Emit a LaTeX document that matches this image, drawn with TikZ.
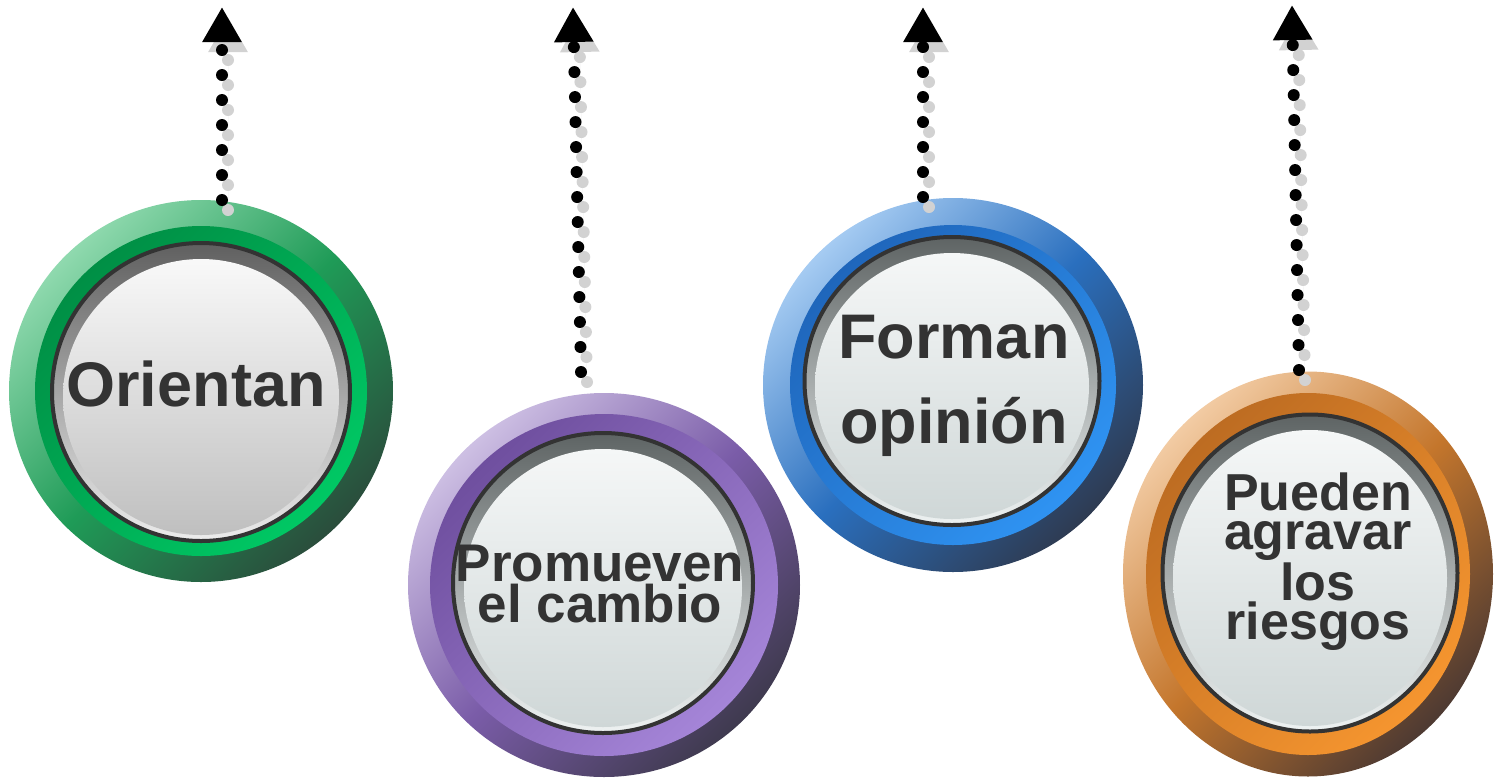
\documentclass[tikz,border=0pt]{standalone}
\usepackage{fontspec}
\setmainfont{Liberation Sans}
\usetikzlibrary{arrows.meta, shapes.geometric}

\definecolor{txtgray}{HTML}{333333}
\definecolor{dotgray}{HTML}{D2D2D2}
% rim and band colours
\definecolor{grnA}{HTML}{8FD9AE}\definecolor{grnB}{HTML}{1F9B57}\definecolor{grnC}{HTML}{2A4D3C}
\definecolor{grnD}{HTML}{008F45}\definecolor{grnE}{HTML}{00C864}
\definecolor{prpA}{HTML}{CDBFE3}\definecolor{prpB}{HTML}{7A5CA8}\definecolor{prpC}{HTML}{3F3A4F}
\definecolor{prpD}{HTML}{6F4F9F}\definecolor{prpE}{HTML}{A585D8}
\definecolor{bluA}{HTML}{A5CBF2}\definecolor{bluB}{HTML}{2A6FBE}\definecolor{bluC}{HTML}{2E3B52}
\definecolor{bluD}{HTML}{1F66BB}\definecolor{bluE}{HTML}{2F93F2}
\definecolor{orgA}{HTML}{F2CBA3}\definecolor{orgB}{HTML}{C4762C}\definecolor{orgC}{HTML}{4E3A32}
\definecolor{orgD}{HTML}{BD6C22}\definecolor{orgE}{HTML}{F5952F}
% button faces
\definecolor{faceA}{HTML}{F5F7F7}\definecolor{faceB}{HTML}{CFD7D7}
\definecolor{bezA}{HTML}{5E6464}\definecolor{bezB}{HTML}{EEF2F2}

\tikzset{
  rim/.style n args={3}{ellipse, inner sep=0pt, top color=#1, bottom color=#3, middle color=#2, shading angle=45},
  band/.style 2 args={ellipse, inner sep=0pt, top color=#1, bottom color=#2, shading angle=45},
  bezel/.style 2 args={ellipse, inner sep=0pt, draw=txtgray, line width=2pt, top color=#1, bottom color=#2},
  face/.style 2 args={ellipse, inner sep=0pt, top color=#1, bottom color=#2},
  btntext/.style={text=txtgray, align=center, inner sep=0pt},
  dotarrow/.style={line width=6pt, line cap=round, dash pattern=on 0pt off 12.5pt,
    -{Triangle[width=18.5pt, length=17.5pt]}},
  dotshadow/.style={dotarrow, draw=dotgray, fill=dotgray, transform canvas={xshift=3pt, yshift=-5pt}}
}

\begin{document}
\begin{tikzpicture}[x=0.5pt, y=-0.5pt]
  \useasboundingbox (0,0) rectangle (1496,778);

  % green
  \node[rim={grnA}{grnB}{grnC}, minimum width=192pt, minimum height=191pt] (grim) at (201,391) {};
  \node[band={grnD}{grnE}, minimum width=166pt, minimum height=165pt] (gband) at (201,391) {};
  \node[bezel={gray!75!black}{gray!15}, minimum size=149pt] (gbezel) at (201,392) {};
  \node[face={gray!5}{gray!50}, minimum size=138pt] (gface) at (201,397) {};
  \node[btntext, font=\bfseries\fontsize{31.5}{42.5}\selectfont] (orientan) at (196,384) {Orientan};

  % purple
  \node[rim={prpA}{prpB}{prpC}, minimum width=196pt, minimum height=192pt] (prim) at (604,585) {};
  \node[band={prpD}{prpE}, minimum width=174pt, minimum height=171pt] (pband) at (604,585) {};
  \node[bezel={bezA}{bezB}, minimum size=150pt] (pbezel) at (603,583) {};
  \node[face={faceA}{faceB}, minimum size=139pt] (pface) at (603,588) {};
  \node[btntext, font=\bfseries\fontsize{26.5}{18.5}\selectfont] (promueven) at (600,584) {Promueven\\el cambio};

  % blue
  \node[rim={bluA}{bluB}{bluC}, minimum width=190pt, minimum height=187pt] (brim) at (953,385) {};
  \node[band={bluD}{bluE}, minimum width=163pt, minimum height=160pt] (bband) at (953,385) {};
  \node[bezel={bezA}{bezB}, minimum width=147.5pt, minimum height=144pt] (bbezel) at (952,381) {};
  \node[face={faceA}{faceB}, minimum width=137pt, minimum height=133pt] (bface) at (952,386) {};
  \node[btntext, font=\bfseries\fontsize{31.5}{42.5}\selectfont] (forman) at (954,386) {Forman\\opinión};

  % orange
  \node[rim={orgA}{orgB}{orgC}, minimum width=185pt, minimum height=202.5pt] (orim) at (1308,574) {};
  \node[band={orgD}{orgE}, minimum width=162pt, minimum height=181pt] (oband) at (1308,574) {};
  \node[bezel={bezA}{bezB}, minimum width=147.5pt, minimum height=158.5pt] (obezel) at (1310,573) {};
  \node[face={faceA}{faceB}, minimum width=137pt, minimum height=148pt] (oface) at (1310,578) {};
  \node[btntext, font=\bfseries\fontsize{26}{19.5}\selectfont] (pueden) at (1318,562) {Pueden\\agravar\\los\\riesgos};

  % dotted arrows
  \coordinate (gfoot) at (222,200);  \coordinate (gtip) at (222,7);
  \coordinate (pfoot) at (581,372);  \coordinate (ptip) at (573,7);
  \coordinate (bfoot) at (923,197);  \coordinate (btip) at (923,7);
  \coordinate (ofoot) at (1299,370); \coordinate (otip) at (1292,5);
  \foreach \c in {g,p,b,o}{
    \draw[dotshadow] (\c foot) -- (\c tip);
    \draw[dotarrow] (\c foot) -- (\c tip);
  }
\end{tikzpicture}
\end{document}
